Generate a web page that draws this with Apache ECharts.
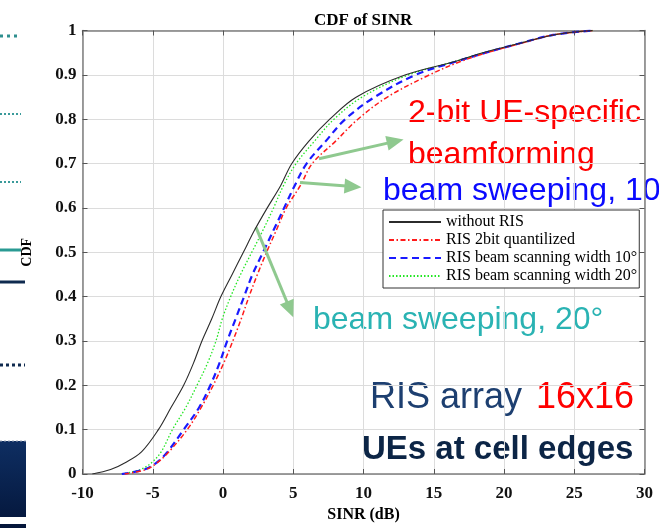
<!DOCTYPE html>
<html>
<head>
<meta charset="utf-8">
<script src="https://cdn.jsdelivr.net/npm/echarts@6/dist/echarts.min.js"></script>
<style>
  html, body { margin: 0; padding: 0; background: #fff; }
  #chart { width: 659px; height: 528px; }
</style>
</head>
<body>
<div id="chart"></div>
<script>
// CDF levels shared by all curves, SINR (dB) read at each level
const cdfLevels = [0, 0.01, 0.025, 0.05, 0.1, 0.15, 0.2, 0.25, 0.3, 0.35, 0.4, 0.45, 0.5,
  0.55, 0.6, 0.65, 0.7, 0.75, 0.8, 0.85, 0.9, 0.93, 0.95, 0.97, 0.99, 1.0];
const sinrNoRis = [-9.3, -8.0, -7.0, -5.8, -4.6, -3.7, -2.8, -2.1, -1.5, -0.8, -0.15, 0.65, 1.45,
  2.25, 3.15, 4.1, 4.9, 6.1, 7.6, 9.5, 13.0, 16.5, 18.5, 21.0, 23.5, 26.3];
const sinrRis2bit = [-7.0, -5.5, -4.7, -3.85, -2.55, -1.55, -0.7, 0.05, 0.7, 1.3, 1.85, 2.45, 3.1,
  3.8, 4.5, 5.5, 6.35, 8.0, 9.6, 11.7, 14.7, 16.9, 18.8, 21.1, 23.5, 26.3];
const sinrBeam10 = [-7.2, -5.6, -4.75, -3.95, -2.8, -1.7, -0.9, -0.25, 0.3, 0.9, 1.5, 2.1, 2.85,
  3.6, 4.35, 5.1, 5.95, 7.3, 8.7, 10.8, 13.7, 16.6, 18.7, 21.0, 23.5, 26.3];
const sinrBeam20 = [-7.2, -5.9, -5.1, -4.4, -3.6, -2.65, -1.85, -1.1, -0.5, -0.05, 0.55, 1.25, 2.05,
  2.85, 3.6, 4.3, 5.2, 6.5, 7.9, 9.9, 13.2, 16.5, 18.6, 21.0, 23.5, 26.3];

const seriesNames = ['without RIS', 'RIS 2bit quantilized',
  'RIS beam scanning width 10°', 'RIS beam scanning width 20°'];
const xTicks = { min: -10, max: 30, step: 5 };
const yTicks = { min: 0, max: 1, step: 0.1 };

const serif = '"Liberation Serif", "Times New Roman", serif';
const sans = '"Liberation Sans", Arial, sans-serif';

function pairs(xs) {
  return cdfLevels.map((p, i) => [xs[i], p]);
}

const chart = echarts.init(document.getElementById('chart'), null, { renderer: 'canvas' });

const tickLabel = { fontFamily: serif, fontWeight: 'bold', fontSize: 17, color: '#111' };
const frameLine = { onZero: false, lineStyle: { color: '#7f7f7f', width: 1.5 } };
const innerTick = { inside: true, length: 5, lineStyle: { color: '#555', width: 1 } };

chart.setOption({
  animation: false,
  backgroundColor: '#ffffff',
  title: {
    text: 'CDF of SINR',
    left: 309,
    top: 7,
    textStyle: { fontFamily: serif, fontWeight: 'bold', fontSize: 17, color: '#000' }
  },
  grid: { left: 82.5, right: 14.5, top: 30.5, bottom: 52.5 },
  legend: {
    data: seriesNames,
    orient: 'vertical',
    left: 383,
    top: 210,
    itemWidth: 52,
    itemHeight: 14,
    itemGap: 2,
    padding: [4, 2, 4, 5],
    backgroundColor: '#fff',
    borderColor: '#333',
    borderWidth: 1,
    borderRadius: 0,
    itemStyle: { color: 'rgba(0,0,0,0)', borderWidth: 0, opacity: 0 },
    textStyle: { fontFamily: serif, fontSize: 16, color: '#000' }
  },
  xAxis: [
    {
      type: 'value', position: 'bottom',
      min: xTicks.min, max: xTicks.max, interval: xTicks.step,
      name: 'SINR (dB)', nameLocation: 'middle', nameGap: 33,
      nameTextStyle: { fontFamily: serif, fontWeight: 'bold', fontSize: 16, color: '#000' },
      axisLine: frameLine, axisTick: innerTick,
      axisLabel: Object.assign({ margin: 11 }, tickLabel),
      splitLine: { show: true, lineStyle: { color: '#dcdcdc', width: 1 } }
    },
    {
      type: 'value', position: 'top',
      min: xTicks.min, max: xTicks.max, interval: xTicks.step,
      axisLine: frameLine, axisTick: innerTick,
      axisLabel: { show: false }, splitLine: { show: false }
    }
  ],
  yAxis: [
    {
      type: 'value', position: 'left',
      min: yTicks.min, max: yTicks.max, interval: yTicks.step,
      name: 'CDF', nameLocation: 'middle', nameGap: 48,
      nameTextStyle: { fontFamily: serif, fontWeight: 'bold', fontSize: 14, color: '#000' },
      axisLine: frameLine, axisTick: innerTick,
      axisLabel: Object.assign({ margin: 6 }, tickLabel),
      splitLine: { show: true, lineStyle: { color: '#dcdcdc', width: 1 } }
    },
    {
      type: 'value', position: 'right',
      min: yTicks.min, max: yTicks.max, interval: yTicks.step,
      axisLine: frameLine, axisTick: innerTick,
      axisLabel: { show: false }, splitLine: { show: false }
    }
  ],
  series: [
    {
      name: seriesNames[0], type: 'line', symbol: 'none', smooth: 0.35, data: pairs(sinrNoRis),
      lineStyle: { color: '#2b2b2b', width: 1.1 }, itemStyle: { color: '#2b2b2b' }, z: 5
    },
    {
      name: seriesNames[1], type: 'line', symbol: 'none', smooth: 0.35, data: pairs(sinrRis2bit),
      lineStyle: { color: '#ff1a1a', width: 1.5, type: [5, 2.5, 1.5, 2.5] }, itemStyle: { color: '#ff1a1a' }, z: 4
    },
    {
      name: seriesNames[2], type: 'line', symbol: 'none', smooth: 0.35, data: pairs(sinrBeam10),
      lineStyle: { color: '#1a1aff', width: 2.2, type: [7, 4.5] }, itemStyle: { color: '#1a1aff' }, z: 3
    },
    {
      name: seriesNames[3], type: 'line', symbol: 'none', smooth: 0.35, data: pairs(sinrBeam20),
      lineStyle: { color: '#22e622', width: 1.3, type: [1.5, 2] }, itemStyle: { color: '#22e622' }, z: 2
    },
    {
      name: 'arrows', type: 'line', data: [], z: 10,
      markLine: {
        silent: true,
        symbol: ['none', 'triangle'],
        symbolSize: [15, 17],
        label: { show: false },
        lineStyle: { color: '#8fc98f', width: 3, type: 'solid' },
        itemStyle: { color: '#8fc98f' },
        data: [
          [{ coord: [6.83, 0.711] }, { coord: [12.26, 0.750] }],
          [{ coord: [5.48, 0.657] }, { coord: [9.25, 0.648] }],
          [{ coord: [2.35, 0.556] }, { coord: [4.77, 0.371] }]
        ]
      }
    }
  ],
  graphic: [
    // remnants of the slide on the left edge
    { type: 'line', shape: { x1: 0, y1: 36, x2: 21, y2: 36 }, style: { stroke: '#2f8f8f', lineWidth: 3, lineDash: [3, 4] } },
    { type: 'line', shape: { x1: 0, y1: 114, x2: 21, y2: 114 }, style: { stroke: '#3a9a9a', lineWidth: 2, lineDash: [2, 2] } },
    { type: 'line', shape: { x1: 0, y1: 182, x2: 21, y2: 182 }, style: { stroke: '#3a9a9a', lineWidth: 2, lineDash: [2, 2] } },
    { type: 'line', shape: { x1: 0, y1: 250, x2: 21, y2: 250 }, style: { stroke: '#2a9a93', lineWidth: 3 } },
    { type: 'line', shape: { x1: 0, y1: 282, x2: 25, y2: 282 }, style: { stroke: '#0f2a4f', lineWidth: 3 } },
    { type: 'line', shape: { x1: 0, y1: 365, x2: 25, y2: 365 }, style: { stroke: '#0f2a4f', lineWidth: 3, lineDash: [3, 3] } },
    {
      type: 'rect', shape: { x: 0, y: 441, width: 26, height: 87 },
      style: {
        fill: new echarts.graphic.LinearGradient(0, 0, 0, 1, [
          { offset: 0, color: '#0e2e62' }, { offset: 1, color: '#04163a' }
        ])
      }
    },
    { type: 'line', shape: { x1: 0, y1: 441, x2: 26, y2: 441 }, style: { stroke: '#9aa4b8', lineWidth: 1, lineDash: [2, 2] } },
    { type: 'rect', shape: { x: 0, y: 517, width: 26, height: 7 }, style: { fill: '#ffffff' } },
    // annotations
    { type: 'text', x: 408, y: 113, style: { text: '2-bit UE-specific', font: '32px ' + sans, fill: '#ff0000', verticalAlign: 'middle' } },
    { type: 'text', x: 408, y: 155, style: { text: 'beamforming', font: '32px ' + sans, fill: '#ff0000', verticalAlign: 'middle' } },
    { type: 'text', x: 383, y: 191, style: { text: 'beam sweeping, 10°', font: '32px ' + sans, fill: '#0a0aff', verticalAlign: 'middle' } },
    { type: 'text', x: 313, y: 320, style: { text: 'beam sweeping, 20°', font: '32px ' + sans, fill: '#2ab3b3', verticalAlign: 'middle' } },
    { type: 'text', x: 370, y: 398, style: { text: 'RIS array', font: '36px ' + sans, fill: '#1d3f70', verticalAlign: 'middle' } },
    { type: 'text', x: 536, y: 398, style: { text: '16x16', font: '36px ' + sans, fill: '#ff0000', verticalAlign: 'middle' } },
    { type: 'text', x: 362, y: 450, style: { text: 'UEs at cell edges', font: 'bold 33px ' + sans, fill: '#0c2546', verticalAlign: 'middle' } }
  ]
});
</script>
</body>
</html>
